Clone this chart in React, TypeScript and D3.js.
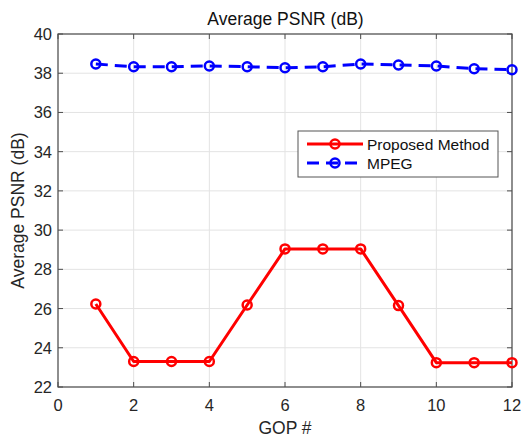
import React from "react";
import * as d3 from "d3";

const gop = [1, 2, 3, 4, 5, 6, 7, 8, 9, 10, 11, 12];
const proposed = [26.23, 23.3, 23.3, 23.3, 26.18, 29.04, 29.04, 29.04, 26.15, 23.24, 23.24, 23.24];
const mpeg = [38.47, 38.33, 38.33, 38.37, 38.33, 38.28, 38.33, 38.47, 38.42, 38.37, 38.23, 38.18];
const xTicks = [0, 2, 4, 6, 8, 10, 12];
const yTicks = [22, 24, 26, 28, 30, 32, 34, 36, 38, 40];
const seriesNames = ["Proposed Method", "MPEG"];

const W = 531, H = 437;
const L = 58, R = 512, T = 34, B = 387;

export default function App() {
  const x = d3.scaleLinear().domain([0, 12]).range([L, R]);
  const y = d3.scaleLinear().domain([22, 40]).range([B, T]);
  const line = d3.line<number>().x((_, i) => x(gop[i])).y((d) => y(d));
  const font = "'Liberation Sans', Arial, sans-serif";
  const axisColor = "#4d4d4d";
  const textColor = "#262626";
  return (
    <svg width={W} height={H} style={{ position: "absolute", left: 0, top: 0, background: "#fff" }} fontFamily={font}>
      <rect x={0} y={0} width={W} height={H} fill="#fff" />
      {/* grid */}
      {xTicks.map((t) => (
        <line key={"gx" + t} x1={x(t)} x2={x(t)} y1={T} y2={B} stroke="#e3e3e3" strokeWidth={1} />
      ))}
      {yTicks.map((t) => (
        <line key={"gy" + t} x1={L} x2={R} y1={y(t)} y2={y(t)} stroke="#e3e3e3" strokeWidth={1} />
      ))}
      {/* box */}
      <rect x={L} y={T} width={R - L} height={B - T} fill="none" stroke={axisColor} strokeWidth={1.2} />
      {/* ticks */}
      {xTicks.map((t) => (
        <g key={"tx" + t}>
          <line x1={x(t)} x2={x(t)} y1={B} y2={B - 5} stroke={axisColor} />
          <line x1={x(t)} x2={x(t)} y1={T} y2={T + 5} stroke={axisColor} />
          <text x={x(t)} y={B + 24} textAnchor="middle" fontSize={16.5} fill={textColor}>{t}</text>
        </g>
      ))}
      {yTicks.map((t) => (
        <g key={"ty" + t}>
          <line x1={L} x2={L + 5} y1={y(t)} y2={y(t)} stroke={axisColor} />
          <line x1={R} x2={R - 5} y1={y(t)} y2={y(t)} stroke={axisColor} />
          <text x={L - 6} y={y(t) + 6} textAnchor="end" fontSize={16.5} fill={textColor}>{t}</text>
        </g>
      ))}
      {/* labels */}
      <text x={(L + R) / 2 + 0.5} y={25} textAnchor="middle" fontSize={17.5} fill="#111">Average PSNR (dB)</text>
      <text x={(L + R) / 2} y={434} textAnchor="middle" fontSize={17.5} fill={textColor}>GOP #</text>
      <text transform={`translate(24,${(T + B) / 2}) rotate(-90)`} textAnchor="middle" fontSize={17.5} fill={textColor}>Average PSNR (dB)</text>
      {/* series */}
      <path d={line(proposed) || ""} fill="none" stroke="#ff0000" strokeWidth={3} strokeLinejoin="round" />
      {proposed.map((v, i) => (
        <circle key={"p" + i} cx={x(gop[i])} cy={y(v)} r={4.5} fill="none" stroke="#ff0000" strokeWidth={2.5} />
      ))}
      <path d={line(mpeg) || ""} fill="none" stroke="#0000ff" strokeWidth={3} strokeDasharray="12,7" />
      {mpeg.map((v, i) => (
        <circle key={"m" + i} cx={x(gop[i])} cy={y(v)} r={4.5} fill="none" stroke="#0000ff" strokeWidth={2.5} />
      ))}
      {/* legend */}
      <rect x={298} y={131} width={200} height={46} fill="#fff" stroke="#555" strokeWidth={1} />
      <line x1={307} x2={363} y1={144} y2={144} stroke="#ff0000" strokeWidth={3} />
      <circle cx={335} cy={144} r={4.5} fill="none" stroke="#ff0000" strokeWidth={2.5} />
      <text x={367} y={149.5} fontSize={15.5} fill="#111">{seriesNames[0]}</text>
      <line x1={307} x2={363} y1={163} y2={163} stroke="#0000ff" strokeWidth={3} strokeDasharray="12,7" />
      <circle cx={335} cy={163} r={4.5} fill="none" stroke="#0000ff" strokeWidth={2.5} />
      <text x={367} y={168.5} fontSize={15.5} fill="#111">{seriesNames[1]}</text>
    </svg>
  );
}
